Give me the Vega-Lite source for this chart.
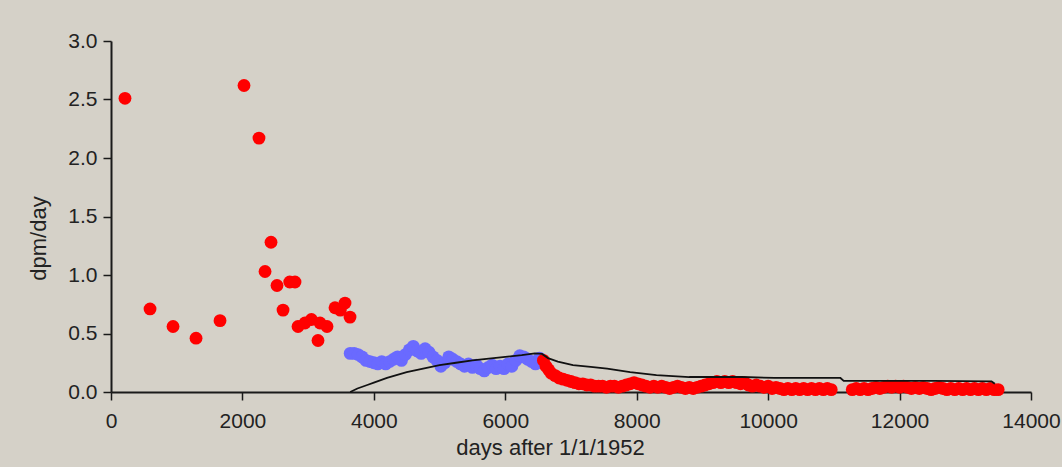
{
  "$schema": "https://vega.github.io/schema/vega-lite/v6.json",
  "width": 920,
  "height": 351,
  "autosize": {"type": "none"},
  "padding": {"left": 111, "top": 41, "right": 31, "bottom": 75},
  "background": "#d5d1c8",
  "config": {
    "view": {"stroke": null},
    "axis": {
      "grid": false,
      "domainColor": "#1a1a1a",
      "domainWidth": 2,
      "tickColor": "#1a1a1a",
      "tickWidth": 1.5,
      "tickSize": 8,
      "labelFont": "Liberation Sans",
      "labelFontSize": 21,
      "labelColor": "#222222",
      "labelFlush": false,
      "titleFont": "Liberation Sans",
      "titleFontSize": 22,
      "titleFontWeight": "normal",
      "titleColor": "#222222"
    }
  },
  "datasets": {
    "pts": [
      {"day": 213, "v": 2.51, "s": "a"}, {"day": 594, "v": 0.71, "s": "a"}, {"day": 944, "v": 0.56, "s": "a"},
      {"day": 1294, "v": 0.46, "s": "a"}, {"day": 1659, "v": 0.61, "s": "a"}, {"day": 2024, "v": 2.62, "s": "a"},
      {"day": 2252, "v": 2.17, "s": "a"}, {"day": 2344, "v": 1.03, "s": "a"}, {"day": 2435, "v": 1.28, "s": "a"},
      {"day": 2526, "v": 0.91, "s": "a"}, {"day": 2618, "v": 0.7, "s": "a"}, {"day": 2720, "v": 0.94, "s": "a"},
      {"day": 2800, "v": 0.94, "s": "a"}, {"day": 2846, "v": 0.56, "s": "a"}, {"day": 2952, "v": 0.59, "s": "a"},
      {"day": 3050, "v": 0.62, "s": "a"}, {"day": 3150, "v": 0.44, "s": "a"}, {"day": 3181, "v": 0.59, "s": "a"},
      {"day": 3287, "v": 0.56, "s": "a"}, {"day": 3409, "v": 0.72, "s": "a"}, {"day": 3490, "v": 0.7, "s": "a"},
      {"day": 3561, "v": 0.76, "s": "a"}, {"day": 3637, "v": 0.64, "s": "a"},
      {"day": 3640, "v": 0.33, "s": "b"}, {"day": 3700, "v": 0.33, "s": "b"}, {"day": 3760, "v": 0.32, "s": "b"},
      {"day": 3820, "v": 0.3, "s": "b"}, {"day": 3880, "v": 0.27, "s": "b"}, {"day": 3940, "v": 0.26, "s": "b"},
      {"day": 4000, "v": 0.25, "s": "b"}, {"day": 4060, "v": 0.24, "s": "b"}, {"day": 4120, "v": 0.26, "s": "b"},
      {"day": 4180, "v": 0.24, "s": "b"}, {"day": 4240, "v": 0.26, "s": "b"}, {"day": 4300, "v": 0.28, "s": "b"},
      {"day": 4360, "v": 0.3, "s": "b"}, {"day": 4420, "v": 0.27, "s": "b"}, {"day": 4480, "v": 0.32, "s": "b"},
      {"day": 4540, "v": 0.36, "s": "b"}, {"day": 4600, "v": 0.39, "s": "b"}, {"day": 4660, "v": 0.35, "s": "b"},
      {"day": 4720, "v": 0.33, "s": "b"}, {"day": 4780, "v": 0.37, "s": "b"}, {"day": 4840, "v": 0.34, "s": "b"},
      {"day": 4900, "v": 0.3, "s": "b"}, {"day": 4960, "v": 0.27, "s": "b"}, {"day": 5020, "v": 0.22, "s": "b"},
      {"day": 5080, "v": 0.25, "s": "b"}, {"day": 5140, "v": 0.3, "s": "b"}, {"day": 5200, "v": 0.28, "s": "b"},
      {"day": 5260, "v": 0.26, "s": "b"}, {"day": 5320, "v": 0.24, "s": "b"}, {"day": 5380, "v": 0.22, "s": "b"},
      {"day": 5440, "v": 0.24, "s": "b"}, {"day": 5500, "v": 0.21, "s": "b"}, {"day": 5560, "v": 0.23, "s": "b"},
      {"day": 5620, "v": 0.2, "s": "b"}, {"day": 5680, "v": 0.18, "s": "b"}, {"day": 5740, "v": 0.21, "s": "b"},
      {"day": 5800, "v": 0.23, "s": "b"}, {"day": 5860, "v": 0.2, "s": "b"}, {"day": 5920, "v": 0.22, "s": "b"},
      {"day": 5980, "v": 0.2, "s": "b"}, {"day": 6040, "v": 0.24, "s": "b"}, {"day": 6100, "v": 0.22, "s": "b"},
      {"day": 6160, "v": 0.27, "s": "b"}, {"day": 6220, "v": 0.31, "s": "b"}, {"day": 6280, "v": 0.3, "s": "b"},
      {"day": 6340, "v": 0.28, "s": "b"}, {"day": 6400, "v": 0.26, "s": "b"}, {"day": 6460, "v": 0.24, "s": "b"},
      {"day": 6520, "v": 0.29, "s": "b"},
      {"day": 6580, "v": 0.27, "s": "c"}, {"day": 6620, "v": 0.22, "s": "c"}, {"day": 6660, "v": 0.19, "s": "c"},
      {"day": 6700, "v": 0.16, "s": "c"}, {"day": 6760, "v": 0.14, "s": "c"}, {"day": 6820, "v": 0.12, "s": "c"},
      {"day": 6880, "v": 0.11, "s": "c"}, {"day": 6940, "v": 0.1, "s": "c"}, {"day": 7000, "v": 0.09, "s": "c"},
      {"day": 7060, "v": 0.08, "s": "c"}, {"day": 7120, "v": 0.07, "s": "c"}, {"day": 7180, "v": 0.07, "s": "c"},
      {"day": 7240, "v": 0.06, "s": "c"}, {"day": 7300, "v": 0.06, "s": "c"}, {"day": 7360, "v": 0.05, "s": "c"},
      {"day": 7420, "v": 0.05, "s": "c"}, {"day": 7480, "v": 0.05, "s": "c"}, {"day": 7540, "v": 0.04, "s": "c"},
      {"day": 7600, "v": 0.05, "s": "c"}, {"day": 7660, "v": 0.05, "s": "c"}, {"day": 7720, "v": 0.04, "s": "c"},
      {"day": 7780, "v": 0.05, "s": "c"}, {"day": 7840, "v": 0.06, "s": "c"}, {"day": 7900, "v": 0.07, "s": "c"},
      {"day": 7960, "v": 0.08, "s": "c"}, {"day": 8020, "v": 0.07, "s": "c"}, {"day": 8080, "v": 0.06, "s": "c"},
      {"day": 8140, "v": 0.05, "s": "c"}, {"day": 8200, "v": 0.04, "s": "c"}, {"day": 8260, "v": 0.05, "s": "c"},
      {"day": 8320, "v": 0.04, "s": "c"}, {"day": 8380, "v": 0.05, "s": "c"}, {"day": 8440, "v": 0.04, "s": "c"},
      {"day": 8500, "v": 0.03, "s": "c"}, {"day": 8560, "v": 0.04, "s": "c"}, {"day": 8620, "v": 0.05, "s": "c"},
      {"day": 8680, "v": 0.04, "s": "c"}, {"day": 8740, "v": 0.03, "s": "c"}, {"day": 8800, "v": 0.04, "s": "c"},
      {"day": 8860, "v": 0.03, "s": "c"}, {"day": 8920, "v": 0.04, "s": "c"}, {"day": 8980, "v": 0.05, "s": "c"},
      {"day": 9040, "v": 0.06, "s": "c"}, {"day": 9100, "v": 0.07, "s": "c"}, {"day": 9160, "v": 0.08, "s": "c"},
      {"day": 9220, "v": 0.09, "s": "c"}, {"day": 9280, "v": 0.08, "s": "c"}, {"day": 9340, "v": 0.09, "s": "c"},
      {"day": 9400, "v": 0.08, "s": "c"}, {"day": 9460, "v": 0.09, "s": "c"}, {"day": 9520, "v": 0.08, "s": "c"},
      {"day": 9580, "v": 0.07, "s": "c"}, {"day": 9640, "v": 0.08, "s": "c"}, {"day": 9700, "v": 0.06, "s": "c"},
      {"day": 9760, "v": 0.05, "s": "c"}, {"day": 9820, "v": 0.06, "s": "c"}, {"day": 9880, "v": 0.05, "s": "c"},
      {"day": 9940, "v": 0.04, "s": "c"}, {"day": 10000, "v": 0.05, "s": "c"}, {"day": 10060, "v": 0.03, "s": "c"},
      {"day": 10120, "v": 0.04, "s": "c"}, {"day": 10180, "v": 0.03, "s": "c"}, {"day": 10240, "v": 0.02, "s": "c"},
      {"day": 10300, "v": 0.03, "s": "c"}, {"day": 10360, "v": 0.02, "s": "c"}, {"day": 10420, "v": 0.03, "s": "c"},
      {"day": 10480, "v": 0.02, "s": "c"}, {"day": 10540, "v": 0.03, "s": "c"}, {"day": 10600, "v": 0.02, "s": "c"},
      {"day": 10660, "v": 0.03, "s": "c"}, {"day": 10720, "v": 0.02, "s": "c"}, {"day": 10780, "v": 0.03, "s": "c"},
      {"day": 10840, "v": 0.02, "s": "c"}, {"day": 10900, "v": 0.03, "s": "c"}, {"day": 10960, "v": 0.02, "s": "c"},
      {"day": 11280, "v": 0.02, "s": "c"}, {"day": 11340, "v": 0.03, "s": "c"}, {"day": 11400, "v": 0.02, "s": "c"},
      {"day": 11460, "v": 0.03, "s": "c"}, {"day": 11520, "v": 0.02, "s": "c"}, {"day": 11580, "v": 0.03, "s": "c"},
      {"day": 11640, "v": 0.04, "s": "c"}, {"day": 11700, "v": 0.03, "s": "c"}, {"day": 11760, "v": 0.04, "s": "c"},
      {"day": 11820, "v": 0.05, "s": "c"}, {"day": 11880, "v": 0.04, "s": "c"}, {"day": 11940, "v": 0.05, "s": "c"},
      {"day": 12000, "v": 0.04, "s": "c"}, {"day": 12060, "v": 0.05, "s": "c"}, {"day": 12120, "v": 0.04, "s": "c"},
      {"day": 12180, "v": 0.03, "s": "c"}, {"day": 12240, "v": 0.04, "s": "c"}, {"day": 12300, "v": 0.03, "s": "c"},
      {"day": 12360, "v": 0.04, "s": "c"}, {"day": 12420, "v": 0.03, "s": "c"}, {"day": 12480, "v": 0.02, "s": "c"},
      {"day": 12540, "v": 0.03, "s": "c"}, {"day": 12600, "v": 0.04, "s": "c"}, {"day": 12660, "v": 0.03, "s": "c"},
      {"day": 12720, "v": 0.02, "s": "c"}, {"day": 12780, "v": 0.03, "s": "c"}, {"day": 12840, "v": 0.02, "s": "c"},
      {"day": 12900, "v": 0.03, "s": "c"}, {"day": 12960, "v": 0.02, "s": "c"}, {"day": 13020, "v": 0.03, "s": "c"},
      {"day": 13080, "v": 0.02, "s": "c"}, {"day": 13140, "v": 0.03, "s": "c"}, {"day": 13200, "v": 0.02, "s": "c"},
      {"day": 13260, "v": 0.03, "s": "c"}, {"day": 13320, "v": 0.02, "s": "c"}, {"day": 13380, "v": 0.03, "s": "c"},
      {"day": 13440, "v": 0.02, "s": "c"}, {"day": 13500, "v": 0.02, "s": "c"}
    ],
    "model": [
      {"day": 3640, "v": 0}, {"day": 3750, "v": 0.03}, {"day": 3900, "v": 0.06}, {"day": 4000, "v": 0.08},
      {"day": 4200, "v": 0.12}, {"day": 4500, "v": 0.17}, {"day": 4750, "v": 0.2}, {"day": 5000, "v": 0.23},
      {"day": 5250, "v": 0.25}, {"day": 5500, "v": 0.27}, {"day": 5750, "v": 0.285}, {"day": 6000, "v": 0.3},
      {"day": 6250, "v": 0.315}, {"day": 6450, "v": 0.33}, {"day": 6560, "v": 0.325}, {"day": 6650, "v": 0.29},
      {"day": 6800, "v": 0.26}, {"day": 7030, "v": 0.23}, {"day": 7300, "v": 0.215}, {"day": 7550, "v": 0.2},
      {"day": 7900, "v": 0.17}, {"day": 8300, "v": 0.145}, {"day": 8800, "v": 0.128}, {"day": 9600, "v": 0.128},
      {"day": 10100, "v": 0.12}, {"day": 11100, "v": 0.12}, {"day": 11150, "v": 0.095}, {"day": 12500, "v": 0.095},
      {"day": 13400, "v": 0.09}, {"day": 13450, "v": 0.07}
    ]
  },
  "layer": [
    {
      "data": {"name": "pts"},
      "mark": {"type": "circle", "size": 165, "opacity": 1},
      "encoding": {
        "x": {
          "field": "day", "type": "quantitative",
          "scale": {"domain": [0, 14000], "nice": false, "zero": false},
          "axis": {
            "values": [0, 2000, 4000, 6000, 8000, 10000, 12000, 14000],
            "format": "d",
            "labelPadding": 10,
            "title": "days after 1/1/1952",
            "titleX": 439, "titleY": 62, "titleAlign": "center", "titleBaseline": "alphabetic"
          }
        },
        "y": {
          "field": "v", "type": "quantitative",
          "scale": {"domain": [0, 3], "nice": false},
          "axis": {
            "values": [0, 0.5, 1, 1.5, 2, 2.5, 3],
            "format": ".1f",
            "labelPadding": 6,
            "title": "dpm/day",
            "titleAngle": 270, "titleX": -66, "titleY": 197, "titleAlign": "center", "titleBaseline": "alphabetic"
          }
        },
        "color": {
          "field": "s", "type": "nominal",
          "scale": {"domain": ["a", "b", "c"], "range": ["#ff0000", "#6a6aff", "#ff0000"]},
          "legend": null
        }
      }
    },
    {
      "data": {"name": "model"},
      "mark": {"type": "line", "color": "#111111", "strokeWidth": 1.8},
      "encoding": {
        "x": {"field": "day", "type": "quantitative"},
        "y": {"field": "v", "type": "quantitative"}
      }
    }
  ]
}
